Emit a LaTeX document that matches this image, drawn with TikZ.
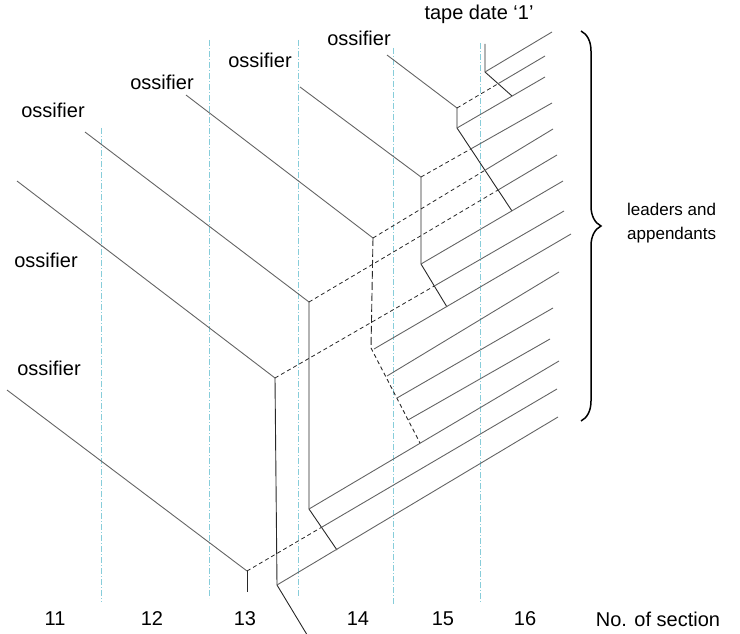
\documentclass[tikz,border=0pt]{standalone}
\usepackage{fontspec}
\setmainfont{Liberation Sans}
\usetikzlibrary{decorations.pathreplacing}
\definecolor{lncol}{RGB}{100,100,100}
\definecolor{ldcol}{RGB}{40,40,40}
\definecolor{seccol}{RGB}{135,205,218}
\begin{document}
\begin{tikzpicture}[x=1pt,y=-1pt,
  ossl/.style={draw=lncol,line width=0.9pt},
  ldl/.style={draw=ldcol,line width=0.9pt},
  ap/.style={draw=lncol,line width=0.9pt},
  apd/.style={draw=ldcol,line width=0.8pt,dash pattern=on 4pt off 3pt},
  secline/.style={draw=seccol,line width=0.8pt,dash pattern=on 6pt off 2pt on 1pt off 2pt},
  lbl/.style={font=\fontsize{20}{24}\selectfont,inner sep=0pt},
  sidelbl/.style={font=\fontsize{17}{24}\selectfont,inner sep=0pt,align=left}]
\useasboundingbox (0,0) rectangle (740,634);
% section divisions
\foreach \x/\t/\b in {101/128/602,209/40/598,298/40/598,393/48/605,480/43/602}
  \draw[secline] (\x,\t) -- (\x,\b);
% key points
\coordinate (Sa) at (17,181);  \coordinate (Ca) at (275,378); \coordinate (Ba) at (277,585); \coordinate (Da) at (309,638);
\coordinate (Sb) at (85,132);  \coordinate (Cb) at (309,302); \coordinate (Bb) at (309,509); \coordinate (Db) at (337,550);
\coordinate (Sc) at (186,95);  \coordinate (Cc) at (373,238); \coordinate (Bc) at (371,348); \coordinate (Dc) at (420,443);
\coordinate (Sd) at (300,87);  \coordinate (Cd) at (421,177); \coordinate (Bd) at (421,264); \coordinate (Dd) at (447,307);
\coordinate (Se) at (387,55);  \coordinate (Ce) at (457,108); \coordinate (Be) at (457,128); \coordinate (De) at (512,211);
\coordinate (Sf) at (7,390);   \coordinate (Cf) at (247,571); \coordinate (Bf) at (247,592);
\coordinate (Tt) at (485,44);  \coordinate (Bt) at (485,72);  \coordinate (Dt) at (512,96);
\coordinate (Bc2) at (374,349);
\coordinate (P10) at (387,376); \coordinate (P11) at (397,398); \coordinate (P12) at (408,420);
% right ends of appendants
\coordinate (E1) at (552,32);  \coordinate (E2) at (545,56);  \coordinate (E3) at (545,77);
\coordinate (E4) at (552,103); \coordinate (E5) at (553,129); \coordinate (E6) at (557,155);
\coordinate (E7) at (563,181); \coordinate (E8) at (564,211); \coordinate (E9) at (571,234);
\coordinate (E10) at (559,272); \coordinate (E11) at (553,308); \coordinate (E12) at (550,339);
\coordinate (E13) at (559,361); \coordinate (E14) at (557,389); \coordinate (E15) at (558,417);
% ossifiers
\draw[ossl] (Sa) -- (Ca);
\draw[ossl] (Sb) -- (Cb);
\draw[ossl] (Sc) -- (Cc);
\draw[ossl] (Sd) -- (Cd);
\draw[ossl] (Se) -- (Ce);
\draw[ossl] (Sf) -- (Cf);
% leaders
\draw[ldl] (Ca) -- (Ba) -- (Da);
\draw[ldl] (Cb) -- (Bb) -- (Db);
\draw[ldl,dash pattern=on 8pt off 3pt] (Cc) -- (Bc);
\draw[ldl,dash pattern=on 4pt off 3pt] (Bc) -- (Dc);
\draw[ldl] (Cd) -- (Bd) -- (Dd);
\draw[ldl] (Ce) -- (Be) -- (De);
\draw[ldl] (Cf) -- (Bf);
\draw[ldl] (Tt) -- (Bt) -- (Dt);
% crossing points
\coordinate (X2) at (intersection of Ce--E2 and Bt--Dt);
\coordinate (X4) at (intersection of Cd--E4 and Be--De);
\coordinate (X5) at (intersection of Cc--E5 and Be--De);
\coordinate (X6) at (intersection of Cb--E6 and Be--De);
\coordinate (X8) at (intersection of Ca--E8 and Bd--Dd);
\coordinate (X14) at (intersection of Cf--E14 and Bb--Db);
% appendants
\draw[ap] (Bt) -- (E1);
\draw[apd] (Ce) -- (X2); \draw[ap] (X2) -- (E2);
\draw[ap] (Be) -- (E3);
\draw[apd] (Cd) -- (X4); \draw[ap] (X4) -- (E4);
\draw[apd] (Cc) -- (X5); \draw[ap] (X5) -- (E5);
\draw[apd] (Cb) -- (X6); \draw[ap] (X6) -- (E6);
\draw[ap] (Bd) -- (E7);
\draw[apd] (Ca) -- (X8); \draw[ap] (X8) -- (E8);
\draw[ap] (Bc2) -- (E9);
\draw[ap] (P10) -- (E10);
\draw[ap] (P11) -- (E11);
\draw[ap] (P12) -- (E12);
\draw[ap] (Bb) -- (E13);
\draw[apd] (Cf) -- (X14); \draw[ap] (X14) -- (E14);
\draw[ap] (Ba) -- (E15);
% labels
\node[lbl] (ob) at (53,110) {ossifier};
\node[lbl] (oc) at (162,82) {ossifier};
\node[lbl] (od) at (260,60) {ossifier};
\node[lbl] (oe) at (359,38) {ossifier};
\node[lbl] (oa) at (46,260) {ossifier};
\node[lbl] (of) at (49,368) {ossifier};
\node[lbl] (tape) at (479,14) {tape date ‘1’};
% brace
\coordinate (BrT) at (581,31);
\coordinate (BrB) at (581,421);
\draw[line width=1.5pt,decorate,decoration={brace,amplitude=20pt}] (BrT) -- (BrB);
\node[sidelbl,anchor=west] (la) at (627,223) {leaders and\\appendants};
% section numbers
\node[lbl] (n11) at (55,619) {11};
\node[lbl] (n12) at (152,619) {12};
\node[lbl] (n13) at (245,619) {13};
\node[lbl] (n14) at (358,619) {14};
\node[lbl] (n15) at (443,619) {15};
\node[lbl] (n16) at (525,619) {16};
\node[lbl] (nos) at (658,619) {No. of section};
\end{tikzpicture}
\end{document}
